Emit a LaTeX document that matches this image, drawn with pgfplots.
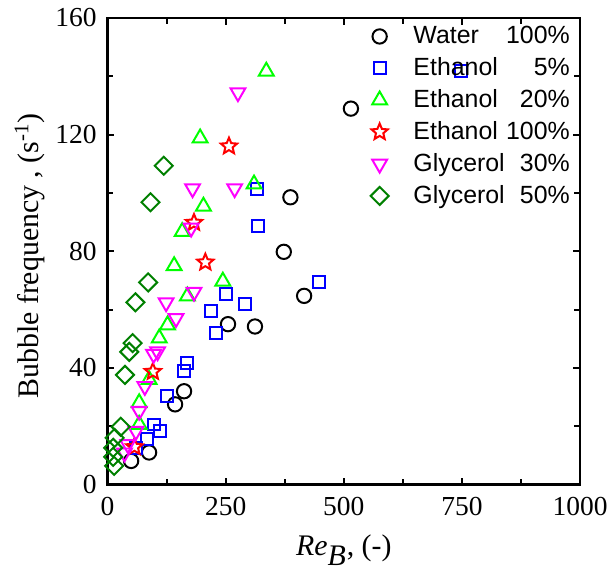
\documentclass[border=0pt]{standalone}
\usepackage{fontspec}
\setmainfont{Liberation Serif}
\newfontfamily\legfont{Liberation Sans}
\usepackage{pgfplots}
\pgfplotsset{compat=1.18}
\usetikzlibrary{plotmarks}
\definecolor{mygreen}{RGB}{0,255,0}
\definecolor{mymag}{RGB}{255,0,255}
\definecolor{mydkgreen}{RGB}{0,128,0}
\definecolor{myred}{RGB}{255,0,0}
\definecolor{myblue}{RGB}{0,0,255}
\pgfdeclareplotmark{ostar}{%
  \pgfpathmoveto{\pgfpointpolar{90}{\pgfplotmarksize}}%
  \pgfpathlineto{\pgfpointpolar{126}{0.45\pgfplotmarksize}}%
  \pgfpathlineto{\pgfpointpolar{162}{\pgfplotmarksize}}%
  \pgfpathlineto{\pgfpointpolar{198}{0.45\pgfplotmarksize}}%
  \pgfpathlineto{\pgfpointpolar{234}{\pgfplotmarksize}}%
  \pgfpathlineto{\pgfpointpolar{270}{0.45\pgfplotmarksize}}%
  \pgfpathlineto{\pgfpointpolar{306}{\pgfplotmarksize}}%
  \pgfpathlineto{\pgfpointpolar{342}{0.45\pgfplotmarksize}}%
  \pgfpathlineto{\pgfpointpolar{18}{\pgfplotmarksize}}%
  \pgfpathlineto{\pgfpointpolar{54}{0.45\pgfplotmarksize}}%
  \pgfpathclose
  \pgfusepathqstroke
}

\begin{document}
\begin{tikzpicture}
\useasboundingbox (-54pt,-46pt) rectangle (251.4pt,243.4pt);
\begin{axis}[
  scale only axis, width=237.4pt, height=234.4pt,
  xmin=0, xmax=1000, ymin=0, ymax=160,
  xtick={0,250,500,750,1000}, ytick={0,40,80,120,160},
  minor x tick num=1, minor y tick num=1,
  tick pos=both,
  tick align=inside,
  major tick length=3.5pt, minor tick length=3pt,
  axis line style={line width=1.3pt},
  every tick/.style={line width=1pt, black},
  /pgf/number format/assume math mode=true,
  /pgf/number format/1000 sep={},
  tick label style={font=\fontsize{13.8}{15}\selectfont},
  xticklabel style={yshift=-3pt},
  yticklabel style={xshift=-2pt},
  label style={font=\fontsize{15}{17}\selectfont},
  xlabel={\textit{Re}$_{\textit{B}}$, (-)},
  ylabel={Bubble frequency , (s\textsuperscript{-1})},
  x label style={at={(axis description cs:0.5,-0.14)}, anchor=center},
  y label style={at={(axis description cs:-0.164,0.49)}, anchor=center},
  legend style={draw=none, fill=none, at={(rel axis cs:1.0,1.0)}, anchor=north east,
    font=\legfont\fontsize{12.5}{15}\selectfont, row sep=1.5pt},
  legend cell align=left,
  legend image code/.code={\path[draw=none] (0pt,0pt) (20pt,0pt); \draw[#1, only marks] plot coordinates {(5pt,0pt)};},
]
\addplot[only marks, black, mark=o, mark size=3.6pt, mark options={line width=1pt}] coordinates {
(50,8.1)(88,11)(143,27.5)(162,32)(255,55)(312,54.2)(373,79.8)(387,98.5)(416,64.7)(515,128.9)};
\addlegendentry{\makebox[78.5pt]{Water\hfill 100\%}}
\addplot[only marks, myblue, mark=square, mark size=3pt, mark options={line width=1pt}] coordinates {
(60,12.6)(84,15.5)(98,20.6)(112,18.3)(126,30.3)(162,38.8)(168,41.8)(218,59.5)(229,51.9)(250,65.5)(290,61.8)(316,101.4)(318,88.7)(447,69.3)(748,141.7)};
\addlegendentry{\makebox[78.5pt]{Ethanol\hfill 5\%}}
\addplot[only marks, mygreen, mark=triangle, mark size=4.3pt, mark options={line width=1pt}] coordinates {
(67,20.6)(67,28)(88,36)(109.5,50.2)(127,54.7)(141,75)(158,86.7)(169,64.6)(196,118.8)(203,95.4)(244,69.7)(310,103)(336,141.7)};
\addlegendentry{\makebox[78.5pt]{Ethanol\hfill 20\%}}
\addplot[only marks, myred, mark=ostar, mark size=4.3pt, mark options={line width=1pt}] coordinates {
(57,12.9)(96,38.7)(183,89.8)(207,76.2)(257,116)};
\addlegendentry{\makebox[78.5pt]{Ethanol\hfill 100\%}}
\addplot[only marks, mymag, mark=triangle, mark size=4.3pt, mark options={line width=1pt, rotate=180}] coordinates {
(36,10.9)(43,13.8)(60,18.3)(67,25.2)(79,33.7)(97.5,44.7)(106,45.6)(124,62.4)(145,57)(177,88)(180,101.5)(183,66)(269,101.5)(276,134.4)};
\addlegendentry{\makebox[78.5pt]{Glycerol\hfill 30\%}}
\addplot[only marks, mydkgreen, mark=square, mark size=3.2pt, mark options={line width=1pt, rotate=45}] coordinates {
(14,6.4)(12,9.5)(12,12.6)(15,16)(28,19.8)(37,37.6)(46,45.5)(53,48.5)(59,62.5)(86,69.3)(91,96.8)(119,109.3)};
\addlegendentry{\makebox[78.5pt]{Glycerol\hfill 50\%}}
\end{axis}
\end{tikzpicture}
\end{document}
